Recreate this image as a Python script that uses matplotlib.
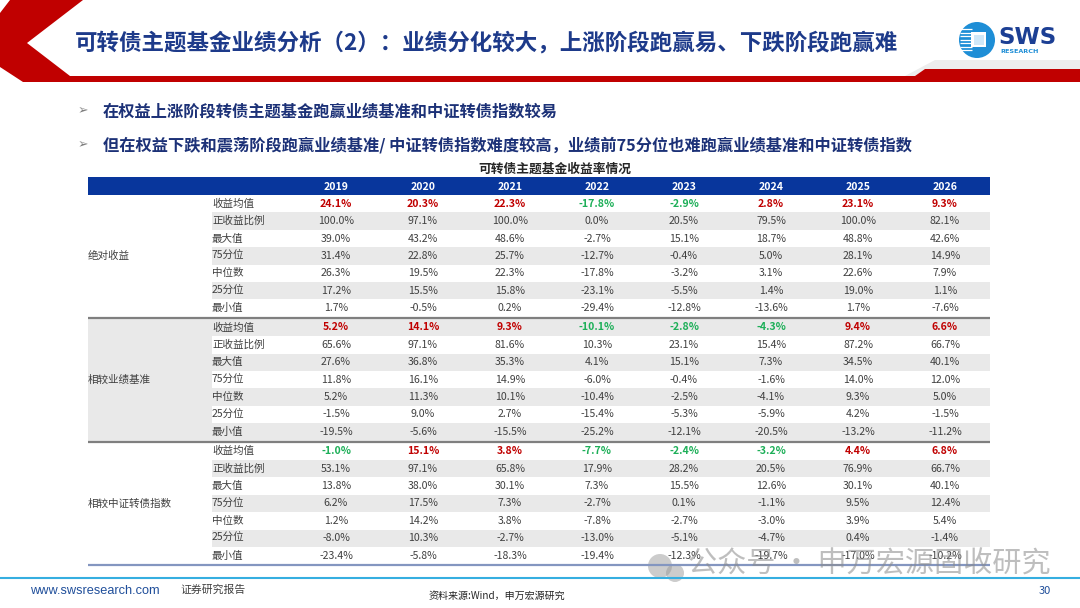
import matplotlib
matplotlib.use("Agg")
import matplotlib.pyplot as plt
from matplotlib.patches import Polygon, Rectangle, Circle

plt.rcParams['font.family'] = ['Noto Sans CJK SC', 'DejaVu Sans']

# ---------------- data ----------------
years = ['2019', '2020', '2021', '2022', '2023', '2024', '2025', '2026']
row_labels = ['收益均值', '正收益比例', '最大值', '75分位', '中位数', '25分位', '最小值']
group_labels = ['绝对收益', '相较业绩基准', '相较中证转债指数']

abs_mean = [24.1, 20.3, 22.3, -17.8, -2.9, 2.8, 23.1, 9.3]
abs_pos = [100.0, 97.1, 100.0, 0.0, 20.5, 79.5, 100.0, 82.1]
abs_max = [39.0, 43.2, 48.6, -2.7, 15.1, 18.7, 48.8, 42.6]
abs_p75 = [31.4, 22.8, 25.7, -12.7, -0.4, 5.0, 28.1, 14.9]
abs_med = [26.3, 19.5, 22.3, -17.8, -3.2, 3.1, 22.6, 7.9]
abs_p25 = [17.2, 15.5, 15.8, -23.1, -5.5, 1.4, 19.0, 1.1]
abs_min = [1.7, -0.5, 0.2, -29.4, -12.8, -13.6, 1.7, -7.6]

bm_mean = [5.2, 14.1, 9.3, -10.1, -2.8, -4.3, 9.4, 6.6]
bm_pos = [65.6, 97.1, 81.6, 10.3, 23.1, 15.4, 87.2, 66.7]
bm_max = [27.6, 36.8, 35.3, 4.1, 15.1, 7.3, 34.5, 40.1]
bm_p75 = [11.8, 16.1, 14.9, -6.0, -0.4, -1.6, 14.0, 12.0]
bm_med = [5.2, 11.3, 10.1, -10.4, -2.5, -4.1, 9.3, 5.0]
bm_p25 = [-1.5, 9.0, 2.7, -15.4, -5.3, -5.9, 4.2, -1.5]
bm_min = [-19.5, -5.6, -15.5, -25.2, -12.1, -20.5, -13.2, -11.2]

cb_mean = [-1.0, 15.1, 3.8, -7.7, -2.4, -3.2, 4.4, 6.8]
cb_pos = [53.1, 97.1, 65.8, 17.9, 28.2, 20.5, 76.9, 66.7]
cb_max = [13.8, 38.0, 30.1, 7.3, 15.5, 12.6, 30.1, 40.1]
cb_p75 = [6.2, 17.5, 7.3, -2.7, 0.1, -1.1, 9.5, 12.4]
cb_med = [1.2, 14.2, 3.8, -7.8, -2.7, -3.0, 3.9, 5.4]
cb_p25 = [-8.0, 10.3, -2.7, -13.0, -5.1, -4.7, 0.4, -1.4]
cb_min = [-23.4, -5.8, -18.3, -19.4, -12.3, -19.7, -17.0, -10.2]

title = '可转债主题基金业绩分析（2）：业绩分化较大，上涨阶段跑赢易、下跌阶段跑赢难'
bullet1 = '在权益上涨阶段转债主题基金跑赢业绩基准和中证转债指数较易'
bullet2 = '但在权益下跌和震荡阶段跑赢业绩基准/ 中证转债指数难度较高，业绩前75分位也难跑赢业绩基准和中证转债指数'
table_title = '可转债主题基金收益率情况'
source = '资料来源:Wind，申万宏源研究'

groups = [
    [abs_mean, abs_pos, abs_max, abs_p75, abs_med, abs_p25, abs_min],
    [bm_mean, bm_pos, bm_max, bm_p75, bm_med, bm_p25, bm_min],
    [cb_mean, cb_pos, cb_max, cb_p75, cb_med, cb_p25, cb_min],
]

# ---------------- figure ----------------
W, H = 1080, 608
fig = plt.figure(figsize=(W / 100, H / 100), dpi=100)
ax = fig.add_axes([0, 0, 1, 1])
ax.set_xlim(0, W)
ax.set_ylim(H, 0)
ax.axis('off')

RED = '#C00000'
NAVY = '#1D3A8A'
BODY = '#404040'

# header decoration
ax.add_patch(Polygon([(905, 76), (935, 60), (1080, 60), (1080, 69), (925, 69), (915, 76)],
                     closed=True, facecolor='#EDEDED', edgecolor='none'))
ax.add_patch(Polygon([(10, 0), (83, 0), (27, 43), (70, 76), (915, 76), (925, 69), (1080, 69),
                      (1080, 82), (23, 82), (0, 67), (0, 13)],
                     closed=True, facecolor=RED, edgecolor='none'))
ax.text(75, 43, title, fontsize=16.2, fontweight='bold', color=NAVY, va='center', ha='left')

# logo
ax.add_patch(Circle((977, 40), 18, facecolor='#1E8ED6', edgecolor='none'))
for yy in [29, 32.5, 36, 39.5, 43, 46.5, 50]:
    ax.plot([960, 972], [yy, yy], color='white', lw=0.9, solid_capstyle='butt')
ax.add_patch(Rectangle((971, 32), 15, 15, facecolor='white', edgecolor='none'))
ax.add_patch(Rectangle((973.5, 34.5), 10, 10, facecolor='#CFE8F8', edgecolor='none'))
ax.text(998, 38, 'SWS', fontsize=16.5, fontweight='bold', color='#1C3F94', va='center', ha='left',
        family='DejaVu Sans')
ax.text(1000, 51.5, 'RESEARCH', fontsize=4.6, fontweight='bold', color='#1E8ED6', va='center',
        ha='left', family='DejaVu Sans')

# bullets
for yb, txt in [(111, bullet1), (145, bullet2)]:
    ax.text(78, yb, '➢', fontsize=9, color='#7F7F7F', va='center', ha='left', family='DejaVu Sans')
    ax.text(103, yb, txt, fontsize=11.7, fontweight='bold', color='#1C3177', va='center', ha='left')

ax.text(555, 169, table_title, fontsize=9.2, color='#262626', va='center', ha='center',
        fontweight='bold')

# ---------------- table ----------------
x_left, x_right = 88, 990
x_label = 212
col_w = 87
col_x = [336 + i * col_w for i in range(len(years))]
head_top, head_bot = 177, 195
rh = 17.4

ax.add_patch(Rectangle((x_left, head_top), x_right - x_left, head_bot - head_top,
                       facecolor='#08369C', edgecolor='none'))
for cx, yr in zip(col_x, years):
    ax.text(cx, (head_top + head_bot) / 2 + 0.5, yr, fontsize=7.6, fontweight='bold', color='white',
            va='center', ha='center')

def fmt(v):
    return f'{v:.1f}%'

gidx = 0
for g, (glabel, rows) in enumerate(zip(group_labels, groups)):
    gtop = head_bot + g * (7 * rh + 2)
    if g == 1:
        ax.add_patch(Rectangle((x_left, gtop), x_label - x_left, 7 * rh,
                               facecolor='#E9E9E9', edgecolor='none'))
    for r, (rl, vals) in enumerate(zip(row_labels, rows)):
        ytop = gtop + r * rh
        yc = ytop + rh / 2
        if gidx % 2 == 1:
            ax.add_patch(Rectangle((x_label, ytop), x_right - x_label, rh,
                                   facecolor='#E9E9E9', edgecolor='none'))
        ax.text(x_label, yc, rl, fontsize=7.6, color=BODY, va='center', ha='left')
        for cx, v in zip(col_x, vals):
            if r == 0:
                col = RED if v > 0 else '#1DAF58'
                ax.text(cx, yc, fmt(v), fontsize=7.6, fontweight='bold', color=col,
                        va='center', ha='center')
            else:
                ax.text(cx, yc, fmt(v), fontsize=7.6, color=BODY, va='center', ha='center')
        gidx += 1
    ax.text(x_left, gtop + 3.5 * rh, glabel, fontsize=7.6, color=BODY, va='center', ha='left')
    ybot = gtop + 7 * rh + 1
    lc = '#7F7F7F' if g < 2 else '#8496C0'
    ax.plot([x_left, x_right], [ybot, ybot], color=lc, lw=1.6, solid_capstyle='butt')

# watermark (as in the reference, semi-transparent over the last row)
ax.add_patch(Circle((660, 566), 12, facecolor='#9A9A9A', edgecolor='none', alpha=0.5))
ax.add_patch(Circle((675, 573), 9, facecolor='#9A9A9A', edgecolor='none', alpha=0.5))
ax.text(688, 565, '公众号 · 申万宏源固收研究', fontsize=21, color='#8A8A8A', alpha=0.55,
        va='center', ha='left')

# footer
ax.plot([0, W], [578, 578], color='#35AEE0', lw=1.5)
ax.text(30, 591, 'www.swsresearch.com', fontsize=9.2, color='#1F4E9A', va='center', ha='left',
        family='Liberation Sans')
ax.text(180, 590, '证券研究报告', fontsize=7.8, color=BODY, va='center', ha='left')
ax.text(497, 596, source, fontsize=7.2, color='#262626', va='center', ha='center')
ax.text(1045, 591, '30', fontsize=8, color='#1F4E9A', va='center', ha='center')

fig.savefig('out.png', dpi=100)
